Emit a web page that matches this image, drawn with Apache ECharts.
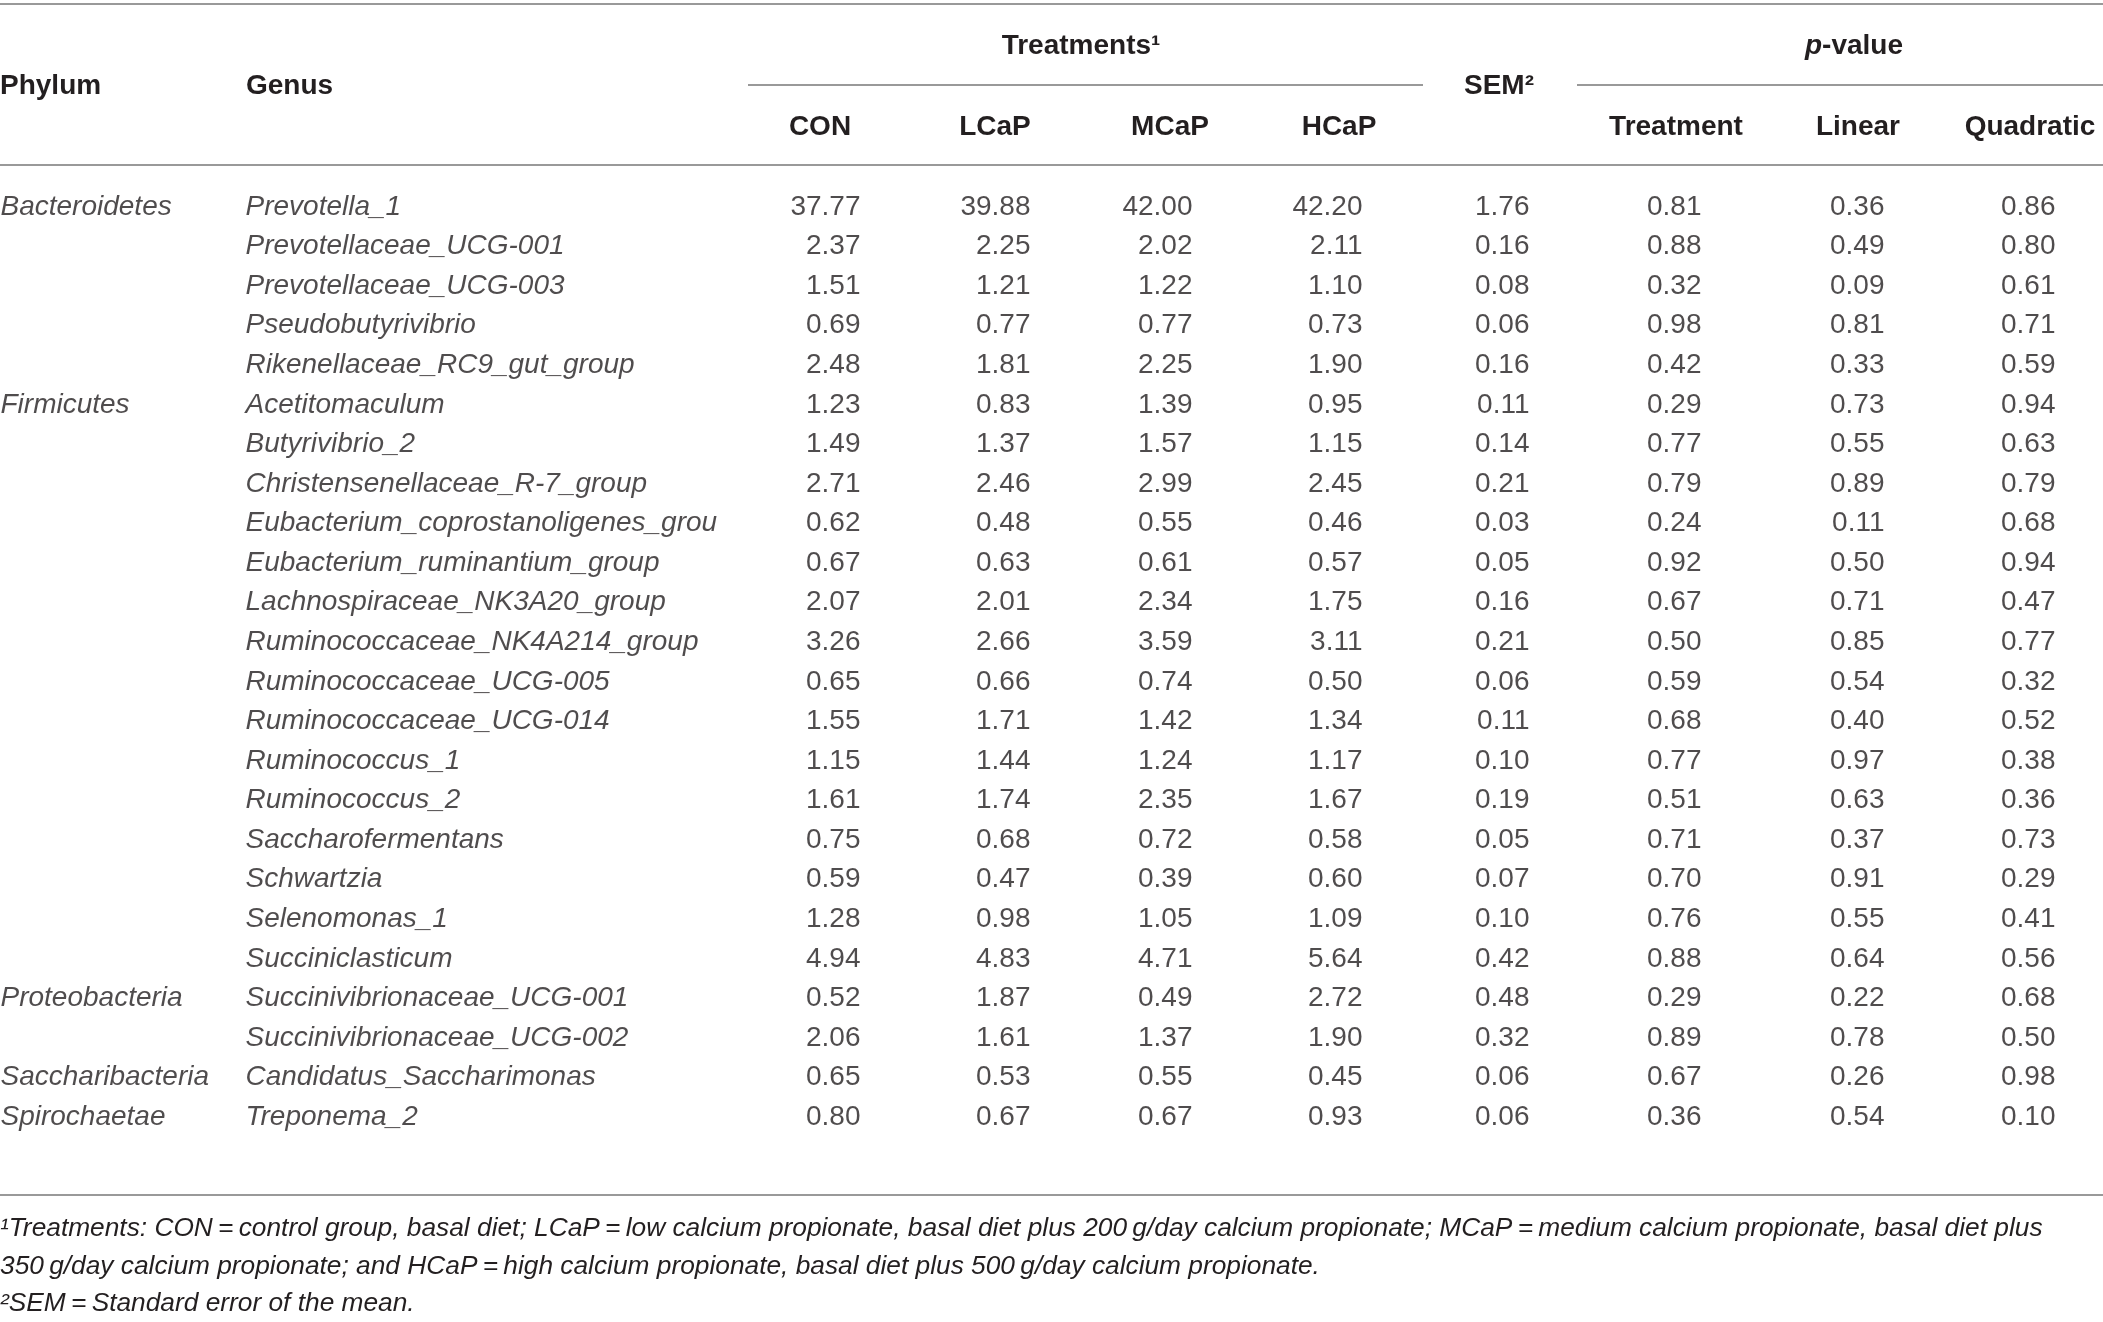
<!DOCTYPE html>
<html>
<head>
<meta charset="utf-8">
<style>
html,body{margin:0;padding:0;background:#fff;}
#chart{width:2103px;height:1322px;}
</style>
<script src="https://cdn.jsdelivr.net/npm/echarts@6/dist/echarts.min.js"></script>
</head>
<body>
<div id="chart"></div>
<script>
// ---------- data ----------
var phyla = ['Bacteroidetes', 'Firmicutes', 'Proteobacteria', 'Saccharibacteria', 'Spirochaetae'];
var phylumCounts = [5, 15, 2, 1, 1];
var genus = [
  'Prevotella_1', 'Prevotellaceae_UCG-001', 'Prevotellaceae_UCG-003', 'Pseudobutyrivibrio', 'Rikenellaceae_RC9_gut_group',
  'Acetitomaculum', 'Butyrivibrio_2', 'Christensenellaceae_R-7_group', 'Eubacterium_coprostanoligenes_grou',
  'Eubacterium_ruminantium_group', 'Lachnospiraceae_NK3A20_group', 'Ruminococcaceae_NK4A214_group',
  'Ruminococcaceae_UCG-005', 'Ruminococcaceae_UCG-014', 'Ruminococcus_1', 'Ruminococcus_2', 'Saccharofermentans',
  'Schwartzia', 'Selenomonas_1', 'Succiniclasticum',
  'Succinivibrionaceae_UCG-001', 'Succinivibrionaceae_UCG-002',
  'Candidatus_Saccharimonas',
  'Treponema_2'
];
var treatmentNames = ['CON', 'LCaP', 'MCaP', 'HCaP'];
var pNames = ['Treatment', 'Linear', 'Quadratic'];
var CON  = [37.77, 2.37, 1.51, 0.69, 2.48, 1.23, 1.49, 2.71, 0.62, 0.67, 2.07, 3.26, 0.65, 1.55, 1.15, 1.61, 0.75, 0.59, 1.28, 4.94, 0.52, 2.06, 0.65, 0.80];
var LCaP = [39.88, 2.25, 1.21, 0.77, 1.81, 0.83, 1.37, 2.46, 0.48, 0.63, 2.01, 2.66, 0.66, 1.71, 1.44, 1.74, 0.68, 0.47, 0.98, 4.83, 1.87, 1.61, 0.53, 0.67];
var MCaP = [42.00, 2.02, 1.22, 0.77, 2.25, 1.39, 1.57, 2.99, 0.55, 0.61, 2.34, 3.59, 0.74, 1.42, 1.24, 2.35, 0.72, 0.39, 1.05, 4.71, 0.49, 1.37, 0.55, 0.67];
var HCaP = [42.20, 2.11, 1.10, 0.73, 1.90, 0.95, 1.15, 2.45, 0.46, 0.57, 1.75, 3.11, 0.50, 1.34, 1.17, 1.67, 0.58, 0.60, 1.09, 5.64, 2.72, 1.90, 0.45, 0.93];
var SEM  = [1.76, 0.16, 0.08, 0.06, 0.16, 0.11, 0.14, 0.21, 0.03, 0.05, 0.16, 0.21, 0.06, 0.11, 0.10, 0.19, 0.05, 0.07, 0.10, 0.42, 0.48, 0.32, 0.06, 0.06];
var pTreatment = [0.81, 0.88, 0.32, 0.98, 0.42, 0.29, 0.77, 0.79, 0.24, 0.92, 0.67, 0.50, 0.59, 0.68, 0.77, 0.51, 0.71, 0.70, 0.76, 0.88, 0.29, 0.89, 0.67, 0.36];
var pLinear    = [0.36, 0.49, 0.09, 0.81, 0.33, 0.73, 0.55, 0.89, 0.11, 0.50, 0.71, 0.85, 0.54, 0.40, 0.97, 0.63, 0.37, 0.91, 0.55, 0.64, 0.22, 0.78, 0.26, 0.54];
var pQuadratic = [0.86, 0.80, 0.61, 0.71, 0.59, 0.94, 0.63, 0.79, 0.68, 0.94, 0.47, 0.77, 0.32, 0.52, 0.38, 0.36, 0.73, 0.29, 0.41, 0.56, 0.68, 0.50, 0.98, 0.10];
var footnotes = [
  '\u00B9Treatments: CON\u2009=\u2009control group, basal diet; LCaP\u2009=\u2009low calcium propionate, basal diet plus 200\u2009g/day calcium propionate; MCaP\u2009=\u2009medium calcium propionate, basal diet plus',
  '350\u2009g/day calcium propionate; and HCaP\u2009=\u2009high calcium propionate, basal diet plus 500\u2009g/day calcium propionate.',
  '\u00B2SEM\u2009=\u2009Standard error of the mean.'
];

// ---------- layout (pixels) ----------
var W = 2103, H = 1322;
var FONT = '"Liberation Sans", Arial, Helvetica, sans-serif';
var TXT = '#231f20';
var RULE = '#999999';
var FS = 28;
var phylumX = 0, genusX = 245;
var numRight = [861, 1031, 1193, 1363, 1530, 1702, 1885, 2056];
var numCols = [CON, LCaP, MCaP, HCaP, SEM, pTreatment, pLinear, pQuadratic];
var numNames = treatmentNames.concat(['SEM'], pNames);

var chart = echarts.init(document.getElementById('chart'), null, {renderer: 'canvas'});

var series = [];
// phylum column: label on first row of each group
var phylumData = [];
var r = 0;
phyla.forEach(function (p, k) {
  phylumData.push({value: [phylumX, genus[r]], name: p});
  r += phylumCounts[k];
});
function baseScatter(name, data, pos, italic) {
  return {
    type: 'scatter', name: name, data: data, symbolSize: 1,
    itemStyle: {color: 'rgba(0,0,0,0)'},
    silent: true, animation: false,
    label: {
      show: true, position: pos, distance: 0,
      fontSize: FS, fontFamily: FONT, color: TXT,
      fontStyle: italic ? 'italic' : 'normal',
      formatter: function (p) { return p.name; }
    }
  };
}
series.push(baseScatter('Phylum', phylumData, 'right', true));
series.push(baseScatter('Genus', genus.map(function (g) { return {value: [genusX, g], name: g}; }), 'right', true));
numCols.forEach(function (col, c) {
  series.push(baseScatter(numNames[c], col.map(function (v, i) {
    return {value: [numRight[c], genus[i]], name: v.toFixed(2)};
  }), 'left', false));
});

function hText(x, y, text, align, opts) {
  opts = opts || {};
  return {
    type: 'text', x: x, y: y, silent: true,
    style: {
      text: text, fontSize: opts.fontSize || FS, fontFamily: FONT,
      fontWeight: opts.fontWeight || 'bold', fontStyle: opts.fontStyle || 'normal',
      fill: TXT, align: align, verticalAlign: 'middle', rich: opts.rich
    }
  };
}
function hLine(x1, x2, y, w) {
  return {type: 'line', silent: true, shape: {x1: x1, y1: y, x2: x2, y2: y}, style: {stroke: RULE, lineWidth: w || 2}};
}
var headerCenters = [820, 995, 1170, 1339];
var pCenters = [1676, 1858, 2030];
var graphics = [
  hLine(0, W, 4, 2),
  hLine(748, 1423, 85, 2),
  hLine(1577, W, 85, 2),
  hLine(0, W, 165, 2),
  hLine(0, W, 1195, 2),
  hText(0, 86, 'Phylum', 'left'),
  hText(246, 86, 'Genus', 'left'),
  hText(1081, 46, 'Treatments\u00B9', 'center'),
  hText(1499, 86, 'SEM\u00B2', 'center'),
  hText(1854, 46, '{i|p}-value', 'center', {rich: {i: {fontStyle: 'italic', fontWeight: 'bold', fontSize: FS, fontFamily: FONT, fill: TXT}}})
];
treatmentNames.forEach(function (t, i) { graphics.push(hText(headerCenters[i], 127, t, 'center')); });
pNames.forEach(function (t, i) { graphics.push(hText(pCenters[i], 127, t, 'center')); });
var footY = [1229, 1267, 1304];
footnotes.forEach(function (f, i) {
  graphics.push(hText(0, footY[i], f, 'left', {fontSize: 26.3, fontWeight: 'normal', fontStyle: 'italic'}));
});

chart.setOption({
  animation: false,
  backgroundColor: '#ffffff',
  grid: {left: 0, right: 0, top: 187.2, bottom: 185.1, containLabel: false},
  xAxis: {type: 'value', min: 0, max: W, show: false},
  yAxis: {type: 'category', data: genus, inverse: true, show: false},
  series: series,
  graphic: graphics
});
</script>
</body>
</html>
